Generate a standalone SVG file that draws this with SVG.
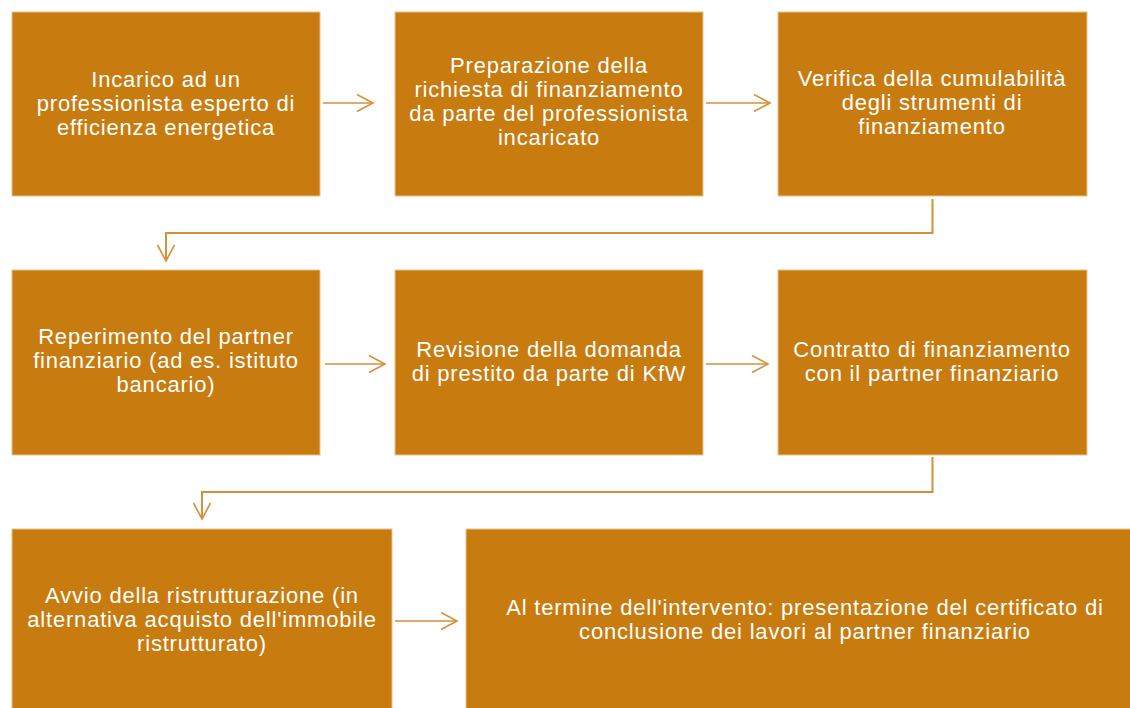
<svg xmlns="http://www.w3.org/2000/svg" width="1130" height="708" viewBox="0 0 1130 708">
<style>
.box{fill:#C87B0F;stroke:#E8C38E;stroke-width:1}
.t{font-family:"Liberation Sans",Arial,sans-serif;font-size:22px;letter-spacing:0.8px;fill:#FFFFFF;text-anchor:middle}
.c{fill:none;stroke:#D4913A;stroke-width:1.6}
.e{fill:none;stroke:#D4913A;stroke-width:2}
</style>
<defs>
<marker id="ah" markerUnits="userSpaceOnUse" markerWidth="20" markerHeight="20" refX="17" refY="9.5" orient="auto">
<path d="M1,1 L17,9.5 L1,18" fill="none" stroke="#D4913A" stroke-width="1.6"/>
</marker>
</defs>
<rect width="1130" height="708" fill="#FFFFFF"/>
<g id="n1"><rect class="box" x="12" y="12" width="308" height="184"/>
<text class="t" x="166" y="87">Incarico ad un</text><text class="t" x="166" y="111">professionista esperto di</text><text class="t" x="166" y="135">efficienza energetica</text></g>
<g id="n2"><rect class="box" x="395" y="12" width="308" height="184"/>
<text class="t" x="549" y="73">Preparazione della</text><text class="t" x="549" y="97">richiesta di finanziamento</text><text class="t" x="549" y="121">da parte del professionista</text><text class="t" x="549" y="145">incaricato</text></g>
<g id="n3"><rect class="box" x="778" y="12" width="309" height="184"/>
<text class="t" x="932" y="86">Verifica della cumulabilità</text><text class="t" x="932" y="110">degli strumenti di</text><text class="t" x="932" y="134">finanziamento</text></g>
<g id="n4"><rect class="box" x="12" y="270" width="308" height="185"/>
<text class="t" x="166" y="344">Reperimento del partner</text><text class="t" x="166" y="368">finanziario (ad es. istituto</text><text class="t" x="166" y="392">bancario)</text></g>
<g id="n5"><rect class="box" x="395" y="270" width="308" height="185"/>
<text class="t" x="549" y="357">Revisione della domanda</text><text class="t" x="549" y="381">di prestito da parte di KfW</text></g>
<g id="n6"><rect class="box" x="778" y="270" width="309" height="185"/>
<text class="t" x="932" y="357">Contratto di finanziamento</text><text class="t" x="932" y="381">con il partner finanziario</text></g>
<g id="n7"><rect class="box" x="12" y="529" width="380" height="182"/>
<text class="t" x="202" y="603">Avvio della ristrutturazione (in</text><text class="t" x="202" y="627">alternativa acquisto dell'immobile</text><text class="t" x="202" y="651">ristrutturato)</text></g>
<g id="n8"><rect class="box" x="466" y="529" width="678" height="182"/>
<text class="t" x="805" y="615">Al termine dell'intervento: presentazione del certificato di</text><text class="t" x="805" y="639">conclusione dei lavori al partner finanziario</text></g>
<g id="connectors">
<line class="c" x1="323" y1="103" x2="373" y2="103" marker-end="url(#ah)"/>
<line class="c" x1="706" y1="103" x2="770" y2="103" marker-end="url(#ah)"/>
<polyline class="e" points="932.5,199 932.5,233 166,233 166,261" marker-end="url(#ah)"/>
<line class="c" x1="325" y1="364" x2="385" y2="364" marker-end="url(#ah)"/>
<line class="c" x1="706" y1="364" x2="768" y2="364" marker-end="url(#ah)"/>
<polyline class="e" points="932.5,457 932.5,492 202,492 202,519" marker-end="url(#ah)"/>
<line class="c" x1="395" y1="621" x2="457" y2="621" marker-end="url(#ah)"/>
</g>
</svg>
